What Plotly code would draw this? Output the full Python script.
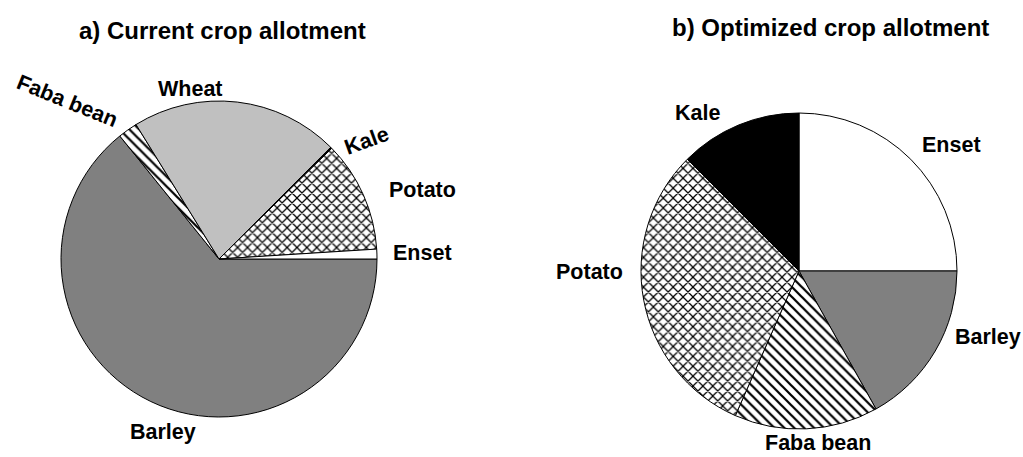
import plotly.graph_objects as go

W, H = 1023, 457

# ---- data ----
labels_a = ["Barley", "Faba bean", "Wheat", "Kale", "Potato", "Enset"]
values_a = [64.2, 2.0, 21.3, 0.15, 11.35, 1.0]
labels_b = ["Enset", "Barley", "Faba bean", "Potato", "Kale"]
values_b = [25.0, 16.9, 14.7, 30.9, 12.5]
titles = ["a) Current crop allotment", "b) Optimized crop allotment"]

# ---- styles ----
fill = {"Barley": "#808080", "Wheat": "#c0c0c0", "Kale": "#000000",
        "Enset": "#ffffff", "Potato": "#ffffff", "Faba bean": "#ffffff"}
patt = {"Potato": "x", "Faba bean": "\\"}
FONT = "Liberation Sans, Arial, sans-serif"


def domain(cx, cy, r):
    return dict(x=[(cx - r) / W, (cx + r) / W],
                y=[(H - cy - r) / H, (H - cy + r) / H])


def pie(labels, values, rot, dom):
    return go.Pie(
        labels=labels, values=values, sort=False, direction="clockwise",
        rotation=rot, textinfo="none", hoverinfo="label+percent",
        showlegend=False, domain=dom,
        marker=dict(colors=[fill[l] for l in labels],
                    line=dict(color="black", width=1),
                    pattern=dict(shape=[patt.get(l, "") for l in labels],
                                 fgcolor="black", bgcolor="white",
                                 size=7, solidity=0.32)))


fig = go.Figure()
fig.add_trace(pie(labels_a, values_a, 90, domain(219, 259, 158)))
fig.add_trace(pie(labels_b, values_b, 0, domain(799, 271, 158)))


def ann(text, px, py, size=21.5, angle=0, yanchor="middle"):
    fig.add_annotation(text=f"<b>{text}</b>", x=px / W, y=1 - py / H,
                       xref="paper", yref="paper", showarrow=False,
                       xanchor="center", yanchor=yanchor, textangle=angle,
                       font=dict(family=FONT, size=size, color="black"))


ann(titles[0], 222, 30, size=24)
ann(titles[1], 830, 27, size=24)

# pie a labels
ann("Wheat", 190, 89)
ann("Kale", 366, 141, angle=-20)
ann("Potato", 422, 190)
ann("Enset", 422, 253)
ann("Faba bean", 67, 101, angle=22)
ann("Barley", 163, 432)
# pie b labels
ann("Kale", 697, 113)
ann("Enset", 951, 145)
ann("Potato", 589, 272)
ann("Barley", 988, 337)
ann("Faba bean", 818, H, yanchor="bottom")

fig.update_layout(width=W, height=H, margin=dict(l=0, r=0, t=0, b=0),
                  paper_bgcolor="white", plot_bgcolor="white",
                  font=dict(family=FONT))
fig.write_html("out.html", config={"displayModeBar": False},
               post_script="document.body.style.margin='0px';"
                           "document.body.style.overflow='hidden';")
